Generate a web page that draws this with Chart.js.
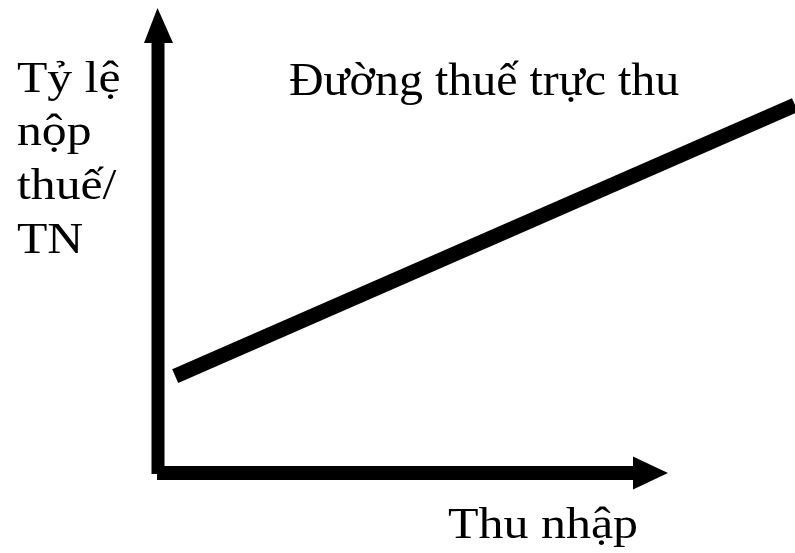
<!DOCTYPE html>
<html>
<head>
<meta charset="utf-8">
<script src="https://cdn.jsdelivr.net/npm/chart.js@4/dist/chart.umd.min.js"></script>
<style>
  html, body { margin: 0; padding: 0; background: #fff; }
  #wrap { width: 795px; height: 553px; }
</style>
</head>
<body>
<div id="wrap"><canvas id="chart" width="795" height="553"></canvas></div>
<script>
'use strict';

// data (axis units 0..100)
var incomeX = [2.7, 100];
var taxRateY = [20.5, 77.8];
var yAxisLabel = ['Tỷ lệ', 'nộp', 'thuế/', 'TN'];
var xAxisLabel = 'Thu nhập';
var lineLabel = 'Đường thuế trực thu';

var points = incomeX.map(function(x, i) {
  return { x: x, y: taxRateY[i] };
});

var serif = '"Liberation Serif", "Times New Roman", serif';

// text slightly stretched sideways, like the source image
function stretchText(ctx, text, x, y, sx) {
  ctx.save();
  ctx.translate(x, y);
  ctx.scale(sx, 1);
  ctx.fillText(text, 0, 0);
  ctx.restore();
}

// axes with arrow heads + texts
var diagramPlugin = {
  id: 'diagram',
  beforeDatasetsDraw: function(chart) {
    var ctx = chart.ctx;
    var xs = chart.scales.x;
    var ys = chart.scales.y;
    var ox = xs.getPixelForValue(0);
    var oy = ys.getPixelForValue(0);

    ctx.save();
    ctx.fillStyle = '#000';

    // vertical shaft
    ctx.fillRect(ox - 6.5, 43, 13, oy - 43 + 1);
    // vertical head
    ctx.beginPath();
    ctx.moveTo(ox - 0.5, 8);
    ctx.lineTo(ox + 15, 43);
    ctx.lineTo(ox - 14, 43);
    ctx.closePath();
    ctx.fill();

    // horizontal shaft
    ctx.fillRect(ox - 1, oy - 7, 633 - ox + 1, 14);
    // horizontal head
    ctx.beginPath();
    ctx.moveTo(668, oy);
    ctx.lineTo(633, oy - 16.5);
    ctx.lineTo(633, oy + 16.5);
    ctx.closePath();
    ctx.fill();

    // texts
    ctx.textBaseline = 'alphabetic';
    ctx.textAlign = 'left';
    ctx.font = '44px ' + serif;
    var baselines = [92, 145, 199, 253];
    yAxisLabel.forEach(function(t, i) {
      stretchText(ctx, t, 17, baselines[i], 1.13);
    });
    ctx.font = '47px ' + serif;
    stretchText(ctx, lineLabel, 289, 95, 1.02);
    ctx.font = '45px ' + serif;
    stretchText(ctx, xAxisLabel, 448, 538, 1.11);
    ctx.restore();
  }
};

var chart = new Chart(document.getElementById('chart').getContext('2d'), {
  type: 'scatter',
  data: {
    datasets: [{
      data: points,
      showLine: true,
      borderColor: '#000',
      borderWidth: 15,
      borderCapStyle: 'butt',
      pointRadius: 0,
      fill: false
    }]
  },
  options: {
    responsive: false,
    animation: false,
    layout: { padding: { left: 158, right: 0, top: 0, bottom: 80 } },
    plugins: { legend: { display: false }, tooltip: { enabled: false } },
    scales: {
      x: { type: 'linear', min: 0, max: 100, display: false },
      y: { type: 'linear', min: 0, max: 100, display: false }
    }
  },
  plugins: [diagramPlugin]
});
</script>
</body>
</html>
